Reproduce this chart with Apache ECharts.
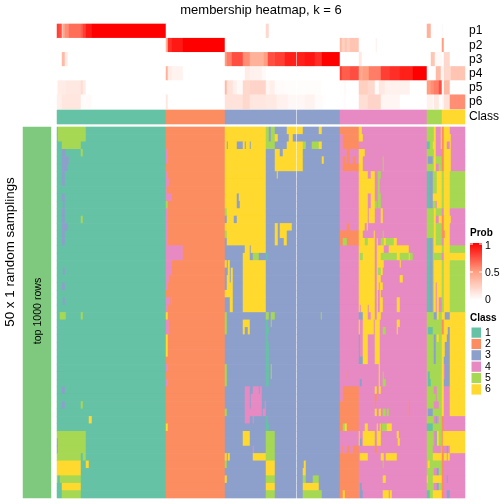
<!DOCTYPE html>
<html><head><meta charset="utf-8">
<style>html,body{margin:0;padding:0;background:#fff}#c{width:504px;height:504px}</style>
<script src="https://cdn.jsdelivr.net/npm/echarts@6/dist/echarts.min.js"></script>
</head><body><div id="c"></div>
<script>
const N_COLS = 408, N_ROWS = 50, BLANK_COL = 239;
const classColors = ['#66C2A5','#FC8D62','#8DA0CB','#E78AC3','#A6D854','#FFD92F'];
const classLabels = ['1','2','3','4','5','6'];
const probNames = ['p1','p2','p3','p4','p5','p6'];
const probTicks = ['1','0.5','0'];
// class blocks: [end column, class]
const classBlocks = [[109,1],[168,2],[283,3],[370,4],[385,5],[408,6]];
// membership probabilities as runs: [end column, value]
const p1 = [[2,.8],[5,.75],[6,.25],[8,.45],[12,.55],[24,.65],[26,.7],[29,.8],[35,.92],[109,1],[209,0],[212,.2],[370,0],[374,.4],[385,0],[386,.03],[408,0]];
const p2 = [[109,0],[111,.4],[115,.85],[126,.92],[168,1],[283,0],[285,.35],[288,.25],[290,.3],[293,.25],[302,.3],[319,0],[320,.08],[385,0],[387,.5],[408,0]];
const p3 = [[5,0],[8,.35],[11,.1],[168,0],[170,.5],[175,.6],[186,.75],[193,.55],[207,.4],[211,.5],[217,.75],[218,.72],[228,.8],[239,.9],[248,.9],[258,.93],[265,.85],[283,1],[302,0],[305,.12],[374,0],[378,.3],[385,.03],[387,0],[393,.2],[408,0]];
const p4 = [[109,0],[111,.4],[115,.1],[126,.06],[188,0],[193,.1],[205,.07],[209,.03],[283,0],[285,.8],[293,.7],[302,.75],[306,.45],[312,.5],[324,.6],[333,.8],[343,.85],[356,.9],[370,1],[379,0],[384,.35],[387,.05],[394,.2],[408,.3]];
const p5 = [[1,.03],[9,.1],[24,.12],[26,.18],[29,.1],[168,0],[170,.35],[176,.15],[180,.08],[186,.03],[193,.2],[209,.22],[213,.05],[218,.08],[228,.02],[239,.01],[264,.01],[287,0],[289,.03],[302,0],[311,.25],[318,.2],[322,.02],[328,.12],[353,.07],[370,0],[374,.5],[377,.55],[382,.6],[385,.75],[387,0],[393,.35],[408,0]];
const p6 = [[5,.08],[24,.13],[35,.02],[109,0],[111,.12],[168,0],[186,.15],[193,.2],[209,.13],[220,.11],[231,.07],[239,.04],[248,.04],[258,.06],[266,.02],[287,0],[289,.02],[302,0],[311,.17],[324,.22],[343,.05],[370,0],[376,.07],[377,0],[382,.12],[384,.02],[385,0],[387,.04],[393,.15],[408,.55]];
const probRows = [p1,p2,p3,p4,p5,p6];
// class overrides: [first row, end row, first column, end column, class]
const patchesClass1 = [[0,2,1,29,5],[2,3,5,24,5],[3,4,5,9,3],[3,4,24,26,5],[4,5,5,12,3],[5,6,5,11,3],[6,8,5,8,3],[9,10,5,8,3],[10,11,6,8,3],[11,16,5,8,3],[12,13,24,26,5],[13,14,5,11,3],[19,20,6,8,3],[21,22,5,8,3],[23,24,6,8,3],[25,26,3,9,5],[25,26,24,26,5],[35,36,5,8,3],[37,38,5,8,3],[37,38,24,26,5],[39,40,32,35,6],[41,44,0,29,5],[42,44,0,1,3],[44,45,0,24,5],[44,45,26,29,5],[45,47,0,24,6],[45,46,29,32,6],[47,48,3,24,5],[47,48,0,1,5],[48,49,5,24,6],[49,50,5,24,5]];
const patchesClass2 = [[3,5,109,111,4],[6,7,109,111,4],[7,8,109,112,4],[8,9,109,110,4],[9,10,109,115,4],[10,11,109,111,5],[11,16,109,111,4],[16,18,109,126,4],[18,20,109,115,4],[20,21,109,112,4],[21,22,109,111,4],[23,24,109,113,4],[23,24,114,115,4],[24,25,109,111,4],[25,26,109,111,6],[26,28,109,112,4],[28,31,109,111,6],[32,33,109,111,4],[34,35,109,111,4],[40,41,109,111,6]];
const patchesClass3 = [[0,16,168,209,6],[0,2,209,212,5],[0,2,214,218,5],[0,1,230,246,6],[1,2,218,221,6],[1,2,232,236,6],[0,1,262,265,6],[2,3,170,171,3],[2,3,180,186,3],[2,3,188,189,3],[2,3,193,194,3],[2,3,209,218,5],[2,3,230,246,6],[2,3,246,249,5],[2,3,255,262,5],[2,3,262,265,6],[3,4,218,223,6],[3,4,226,246,6],[4,6,218,246,6],[4,5,265,267,6],[6,7,220,221,6],[9,10,180,182,3],[10,11,180,183,3],[11,12,168,170,5],[12,13,168,170,3],[12,13,177,180,3],[13,16,218,221,6],[13,14,223,235,6],[14,15,168,170,5],[14,15,223,230,6],[15,16,168,170,3],[15,16,227,230,6],[16,17,188,193,6],[16,17,194,209,6],[17,18,186,193,6],[17,18,196,202,5],[17,18,209,211,1],[18,19,168,170,6],[18,19,171,173,6],[18,25,186,209,6],[19,20,171,173,6],[19,21,174,176,6],[20,21,170,173,6],[21,22,170,176,6],[22,23,168,176,6],[23,25,173,176,6],[25,28,168,170,5],[25,26,209,212,5],[25,26,214,218,5],[25,26,264,265,5],[26,27,186,193,6],[26,27,209,211,1],[26,27,214,215,5],[27,28,186,188,6],[27,28,191,193,6],[27,28,209,212,1],[28,29,209,211,1],[29,32,209,212,1],[32,35,168,170,5],[32,35,209,212,1],[32,34,214,215,5],[35,36,188,193,4],[35,36,196,202,4],[35,36,203,205,4],[36,38,188,193,4],[36,38,194,205,4],[37,38,208,209,4],[38,39,168,170,5],[38,39,188,205,4],[38,39,206,209,4],[39,40,188,193,4],[39,40,196,197,4],[39,40,209,211,1],[40,41,209,212,1],[41,43,186,193,6],[41,45,209,218,5],[43,44,196,197,4],[44,45,168,170,6],[44,45,171,173,6],[44,45,196,209,6],[45,46,168,170,5],[45,47,209,218,6],[45,46,247,249,6],[46,47,246,249,6],[47,48,168,170,6],[47,48,209,218,5],[47,48,246,249,5],[47,48,256,262,5],[48,49,209,218,6],[48,49,246,262,6],[49,50,209,218,5],[49,50,246,265,5]];
const patchesClass4 = [[0,1,283,302,2],[0,1,302,305,6],[1,3,286,302,2],[1,2,302,306,6],[3,4,290,293,2],[3,4,302,308,6],[4,5,286,289,2],[4,5,290,293,2],[4,5,296,299,2],[4,6,302,306,6],[4,6,326,327,5],[5,6,286,302,2],[6,7,302,311,6],[6,7,314,318,6],[6,7,321,324,5],[7,9,302,318,6],[7,9,321,323,5],[9,10,302,311,6],[9,11,314,318,6],[9,11,321,324,5],[10,11,302,311,6],[10,11,318,320,5],[11,13,302,311,6],[11,13,312,318,6],[11,13,324,326,6],[13,14,290,293,2],[13,14,302,308,6],[13,14,310,311,6],[14,16,283,302,2],[14,15,302,306,6],[14,15,317,318,6],[14,15,326,327,5],[15,16,286,290,5],[15,16,302,308,6],[15,16,308,311,5],[15,16,311,318,6],[15,16,320,321,6],[15,16,324,327,5],[15,16,327,329,6],[15,16,329,337,5],[15,16,337,340,6],[16,17,302,318,6],[16,17,320,327,6],[16,17,332,352,6],[17,18,302,318,6],[17,18,303,306,5],[17,18,320,324,6],[17,18,324,340,5],[17,18,340,343,6],[17,18,343,352,5],[17,18,352,353,6],[17,18,353,356,5],[18,19,302,318,6],[18,19,320,327,6],[18,19,343,344,6],[19,20,302,318,6],[19,20,320,321,6],[19,20,321,324,5],[19,20,324,326,6],[20,21,302,318,6],[20,21,320,324,6],[20,21,343,346,6],[21,22,302,318,6],[21,22,320,322,6],[21,22,323,326,6],[22,23,302,318,6],[22,23,320,321,6],[22,23,323,324,6],[23,24,302,318,6],[23,25,320,321,6],[23,25,323,326,6],[23,25,340,343,6],[24,25,302,303,6],[24,25,304,311,6],[24,25,312,318,6],[25,26,302,306,3],[25,26,306,311,6],[25,26,314,318,6],[25,26,320,324,6],[26,27,302,303,6],[26,28,306,317,6],[26,28,318,323,6],[26,27,340,343,6],[27,28,302,303,6],[27,28,326,329,5],[27,28,340,341,6],[28,31,302,303,3],[28,32,306,311,6],[28,32,318,323,6],[31,32,302,306,3],[32,35,322,323,6],[33,34,290,291,2],[33,34,326,327,5],[34,35,303,305,3],[34,35,326,329,5],[35,37,286,302,2],[35,36,318,320,6],[35,36,322,324,6],[36,37,318,320,2],[37,40,283,302,2],[37,38,318,319,2],[37,39,352,353,2],[38,39,318,320,6],[38,39,322,324,6],[38,39,326,329,5],[38,39,330,332,5],[40,41,283,302,2],[40,41,286,288,5],[40,41,288,290,6],[40,41,308,311,6],[40,41,320,321,6],[40,41,323,324,6],[40,41,325,330,5],[40,41,330,332,6],[40,41,332,335,6],[41,43,306,318,6],[41,43,320,324,6],[41,43,302,303,6],[41,42,340,342,6],[42,43,303,305,3],[42,43,341,343,6],[43,44,285,286,2],[43,44,290,293,2],[43,44,296,302,2],[43,44,318,320,2],[44,50,283,302,2],[44,45,303,311,6],[44,45,324,327,6],[44,45,329,340,6],[45,46,326,327,5],[47,48,326,329,6],[48,49,303,305,3],[49,50,286,288,6],[49,50,303,306,3],[49,50,326,332,6],[49,50,333,335,6]];
// columns 370 to 407, one string per row: "class:end column" runs
const tailRows = ["5:377 6:379 4:384 6:385 2:387 6:393 4:408","5:377 6:379 4:384 6:385 2:387 6:394 4:408","1:373 5:376 6:379 4:384 6:385 2:387 6:390 4:393 6:394 4:408","5:377 6:379 4:385 2:387 6:394 4:408","5:371 3:376 5:377 6:379 5:385 2:387 6:394 4:408","5:377 6:379 4:382 5:385 2:387 6:394 4:408","1:373 3:376 5:380 6:385 5:387 6:393 5:408","1:373 3:376 5:380 6:385 5:387 6:393 5:408","1:373 3:376 5:380 6:385 5:387 6:393 5:408","1:373 3:376 6:385 5:387 6:393 5:408","1:373 3:376 5:379 4:380 6:385 5:387 6:393 5:408","5:377 6:379 5:385 4:387 6:393 4:408","5:377 6:379 4:382 6:385 2:387 6:394 4:408","5:377 6:379 5:385 2:387 6:393 4:408","5:377 6:379 5:385 2:388 6:393 4:408","1:373 3:376 5:377 6:379 5:385 4:387 6:393 4:408","1:373 3:376 5:377 6:385 5:387 6:393 5:408","1:373 3:376 5:385 4:387 6:408","1:373 3:376 5:377 6:385 5:387 6:393 5:408","1:373 3:376 5:377 6:385 5:387 6:393 5:408","1:373 3:376 5:377 6:385 5:387 6:393 5:408","1:373 3:376 5:377 6:379 4:380 6:385 5:387 6:393 5:408","1:373 3:376 5:377 6:379 4:380 6:385 5:387 6:393 5:408","1:373 3:376 5:377 6:379 4:380 6:382 4:385 5:387 6:393 5:408","1:373 3:376 5:377 6:379 4:380 6:382 4:385 5:387 6:393 5:408","5:377 3:380 6:382 5:385 6:388 3:393 6:408","5:385 2:387 6:408","5:371 1:376 5:385 2:387 6:391 3:393 6:408","5:377 3:379 5:380 6:382 5:385 6:390 3:393 6:408","5:377 3:379 5:385 6:388 3:393 6:408","5:377 3:379 5:385 6:388 3:393 6:408","5:377 3:379 5:385 6:387 3:393 6:408","5:385 6:387 4:388 3:393 6:408","5:371 1:373 5:385 6:387 4:388 3:393 6:408","5:371 1:374 5:385 6:387 3:393 6:408","5:377 4:380 5:385 6:387 4:393 6:408","5:379 4:380 5:385 6:387 4:393 6:408","5:377 4:382 5:385 6:387 4:393 6:408","5:371 3:376 5:385 6:387 4:393 6:408","5:377 4:379 3:380 4:382 5:385 2:387 4:408","1:376 5:385 2:387 4:408","5:377 4:379 3:380 6:382 5:385 2:386 6:408","5:377 4:379 3:380 6:382 5:385 2:386 6:408","5:376 4:384 5:385 2:387 4:390 3:391 4:393 6:408","5:376 6:385 2:387 6:390 4:391 6:393 4:408","5:371 6:373 5:385 2:387 4:408","5:377 4:380 3:382 5:385 2:387 4:408","6:371 5:376 6:385 2:387 4:390 3:391 4:408","5:377 4:380 3:382 5:385 2:387 4:408","1:373 5:376 6:385 2:387 4:390 3:393 4:408"];

const cols = Array.from({length:N_COLS},(_,i)=>i);
const rows = Array.from({length:N_ROWS},(_,i)=>i);
const classOfCol = c => classBlocks.find(b=>c<b[0])[1];
const matrix = rows.map(()=>cols.map(classOfCol));
[patchesClass1,patchesClass2,patchesClass3,patchesClass4].forEach(list=>{
  list.forEach(([r0,r1,c0,c1,k])=>{
    for(let r=r0;r<r1;r++) for(let c=c0;c<c1;c++) matrix[r][c]=k;
  });
});
tailRows.forEach((s,r)=>{
  let c=370;
  s.split(' ').forEach(t=>{
    const [k,e]=t.split(':').map(Number);
    for(;c<e;c++) matrix[r][c]=k;
  });
});
const matrixData=[];
matrix.forEach((row,r)=>row.forEach((k,c)=>{ if(c!==BLANK_COL) matrixData.push([c,r,k]); }));
const probData=[];
probRows.forEach((runs,r)=>{
  let c=0;
  runs.forEach(([e,v])=>{ for(;c<e;c++) if(c!==BLANK_COL) probData.push([c,r,v]); });
});
const classBarData=cols.filter(c=>c!==BLANK_COL).map(c=>[c,0,classOfCol(c)]);

const F='"Liberation Sans",Arial,sans-serif';
const grid=(left,top,width,height)=>({left,top,width,height,containLabel:false,show:false});
const xA=(i,data)=>({gridIndex:i,type:'category',data,show:false});
const yA=(i,data,label)=>({gridIndex:i,type:'category',data,inverse:true,
  axisLine:{show:false},axisTick:{show:false},splitLine:{show:false},position:'right',
  axisLabel:{show:!!label,interval:0,fontFamily:F,fontSize:12,color:'#000',margin:4}});
const hm=(xi,data)=>({type:'heatmap',xAxisIndex:xi,yAxisIndex:xi,data,silent:true,progressive:0,
  animation:false,itemStyle:{borderWidth:0},emphasis:{disabled:true}});
const txt=(x,y,text,size,extra={})=>({type:'text',x,y,silent:true,z:100,...extra,
  style:{text,fontFamily:F,fontSize:size,fill:'#000',textVerticalAlign:'middle',textBaseline:'middle',...(extra.style||{})}});
const classPieces=classLabels.map((l,i)=>({value:i+1,color:classColors[i]}));

const graphics=[
  txt(261,10,'membership heatmap, k = 6',13,{style:{textAlign:'center'}}),
  txt(10,252,'50 x 1 random samplings',13.4,{rotation:Math.PI/2,style:{textAlign:'center'}}),
  txt(38,311,'top 1000 rows',10.6,{rotation:Math.PI/2,style:{textAlign:'center'}}),
  txt(470,233.5,'Prob',10,{style:{fontWeight:'bold'}}),
  {type:'rect',silent:true,z:100,shape:{x:470,y:243,width:12,height:57},style:{fill:new echarts.graphic.LinearGradient(0,0,0,1,[{offset:0,color:'#FF0000'},{offset:.5,color:'#FF9E81'},{offset:1,color:'#FFFFFF'}])}},
  {type:'line',silent:true,z:101,shape:{x1:470,y1:272,x2:473,y2:272},style:{stroke:'#fff',lineWidth:1}},
  {type:'line',silent:true,z:101,shape:{x1:479,y1:272,x2:482,y2:272},style:{stroke:'#fff',lineWidth:1}},
  {type:'line',silent:true,z:101,shape:{x1:470,y1:244,x2:473,y2:244},style:{stroke:'#fff',lineWidth:1}},
  {type:'line',silent:true,z:101,shape:{x1:479,y1:244,x2:482,y2:244},style:{stroke:'#fff',lineWidth:1}},
  txt(485,246,probTicks[0],10.5), txt(485,273,probTicks[1],10.5), txt(485,300,probTicks[2],10.5),
  txt(470,318,'Class',10,{style:{fontWeight:'bold'}})
];
classLabels.forEach((l,i)=>{
  const y=327+i*11.35;
  graphics.push({type:'rect',silent:true,z:100,shape:{x:471,y,width:10.5,height:11.35},style:{fill:classColors[i],stroke:'#fff',lineWidth:1}});
  graphics.push(txt(485,y+5.7,l,10.5));
});

const chart=echarts.init(document.getElementById('c'),null,{renderer:'canvas',width:504,height:504});
chart.setOption({
  animation:false,backgroundColor:'#fff',
  grid:[grid(57,24,408,85),grid(57,110,408,14),grid(57,127,408,371),grid(23,127,28,371)],
  xAxis:[xA(0,cols),xA(1,cols),xA(2,cols),xA(3,['top 1000 rows'])],
  yAxis:[yA(0,probNames,true),yA(1,['Class'],true),{...yA(2,rows,false),show:false},{...yA(3,['rows'],false),show:false}],
  visualMap:[
    {show:false,type:'continuous',min:0,max:1,seriesIndex:0,inRange:{color:['#FFFFFF','#FF9E81','#FF0000']}},
    {show:false,type:'piecewise',seriesIndex:[1,2],categories:[1,2,3,4,5,6],pieces:classPieces,dimension:2},
    {show:false,type:'piecewise',seriesIndex:3,pieces:[{value:1,color:'#7FC97F'}],dimension:2}
  ],
  series:[hm(0,probData),hm(1,classBarData),hm(2,matrixData),hm(3,[[0,0,1]])],
  graphic:{elements:graphics}
});
</script></body></html>
